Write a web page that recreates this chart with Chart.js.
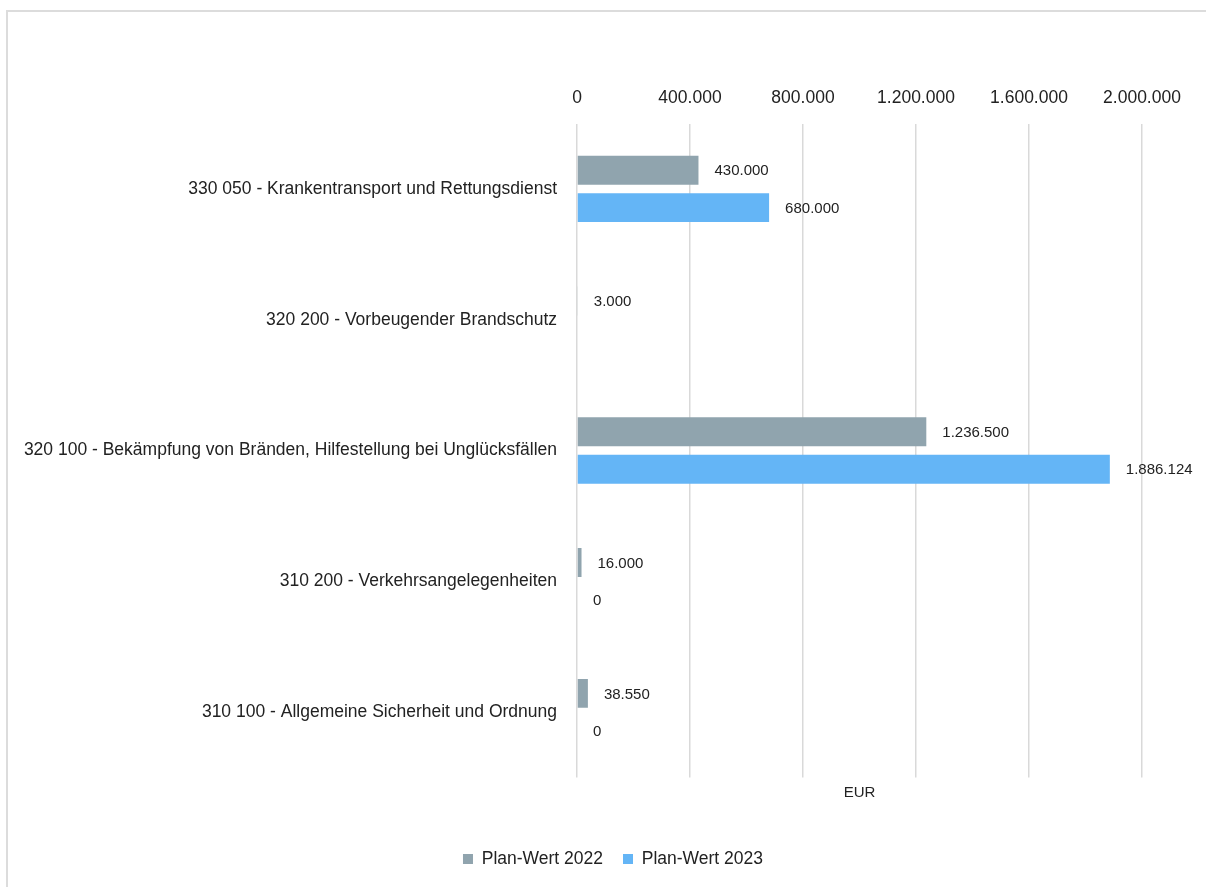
<!DOCTYPE html>
<html lang="de">
<head>
<meta charset="utf-8">
<title>Plan-Werte 2022 / 2023</title>
<script src="https://cdn.jsdelivr.net/npm/chart.js@4.4.1/dist/chart.umd.min.js"></script>
<style>
  html, body { margin: 0; padding: 0; background: #fff; overflow: hidden; }
  .frame {
    position: absolute; left: 6px; top: 10px;
    width: 1250px; height: 950px;
    border: 2px solid #dcdcdc;
  }
  .chart-box {
    position: absolute; left: 0; top: 0;
    width: 1210px; height: 900px;
  }
</style>
</head>
<body>
<div class="frame">
  <div class="chart-box"><canvas id="plan-chart"></canvas></div>
</div>
<script>
const categories = [
  '330 050 - Krankentransport und Rettungsdienst',
  '320 200 - Vorbeugender Brandschutz',
  '320 100 - Bekämpfung von Bränden, Hilfestellung bei Unglücksfällen',
  '310 200 - Verkehrsangelegenheiten',
  '310 100 - Allgemeine Sicherheit und Ordnung'
];
const plan2022 = [430000, 3000, 1236500, 16000, 38550];
const plan2023 = [680000, null, 1886124, 0, 0];
const seriesNames = ['Plan-Wert 2022', 'Plan-Wert 2023'];
const axisMin = 0;
const axisMax = 2000000;
const axisStep = 400000;

const FONT = "'Liberation Sans', Arial, sans-serif";
const TEXT = '#222';

// 1236500 -> "1.236.500"
function fmt(v) {
  return Math.round(v).toString().replace(/\B(?=(\d{3})+(?!\d))/g, '.');
}

// value labels right of each bar end
const valueLabels = {
  id: 'valueLabels',
  afterDatasetsDraw(chart) {
    const ctx = chart.ctx;
    ctx.save();
    ctx.font = '15px ' + FONT;
    ctx.fillStyle = TEXT;
    ctx.textAlign = 'left';
    ctx.textBaseline = 'middle';
    chart.data.datasets.forEach((ds, i) => {
      const meta = chart.getDatasetMeta(i);
      meta.data.forEach((bar, j) => {
        const v = ds.data[j];
        if (v === null || v === undefined) return;
        ctx.fillText(fmt(v), bar.x + 16, bar.y + 1);
      });
    });
    ctx.restore();
  }
};

const ctx = document.getElementById('plan-chart');
new Chart(ctx, {
  type: 'bar',
  data: {
    labels: categories,
    datasets: [
      { label: seriesNames[0], data: plan2022, backgroundColor: '#90A4AE' },
      { label: seriesNames[1], data: plan2023, backgroundColor: '#64B5F6' }
    ]
  },
  options: {
    indexAxis: 'y',
    responsive: true,
    maintainAspectRatio: false,
    animation: false,
    categoryPercentage: 0.5725,
    barPercentage: 0.773,
    layout: { padding: { top: 60.5, left: 0, right: 0, bottom: 34.25 } },
    plugins: {
      legend: {
        position: 'bottom',
        labels: {
          font: { family: FONT, size: 17.5 },
          color: TEXT,
          boxWidth: 10,
          boxHeight: 10,
          padding: 20
        }
      },
      tooltip: { enabled: false }
    },
    scales: {
      x: {
        position: 'top',
        min: axisMin,
        max: axisMax,
        ticks: {
          stepSize: axisStep,
          padding: 15,
          color: TEXT,
          font: { family: FONT, size: 17.5 },
          callback: function(value) { return fmt(value); }
        },
        grid: { color: '#d9d9d9', lineWidth: 1.5, drawTicks: false },
        border: { display: false }
      },
      xTitle: {
        type: 'linear',
        position: 'bottom',
        min: axisMin,
        max: axisMax,
        ticks: { display: false },
        grid: { display: false, drawTicks: false },
        border: { display: false },
        title: {
          display: true,
          text: 'EUR',
          color: TEXT,
          font: { family: FONT, size: 15 },
          padding: { top: 6.5, bottom: 28.25 }
        }
      },
      y: {
        ticks: {
          padding: 20,
          color: TEXT,
          font: { family: FONT, size: 17.5 }
        },
        grid: { display: false, drawTicks: false },
        border: { display: false },
        afterFit: function(scale) { scale.width = 569; }
      },
      yRight: {
        type: 'linear',
        position: 'right',
        ticks: { display: false },
        grid: { display: false, drawTicks: false },
        border: { display: false },
        afterFit: function(scale) { scale.width = 76; }
      }
    }
  },
  plugins: [valueLabels]
});
</script>
</body>
</html>
